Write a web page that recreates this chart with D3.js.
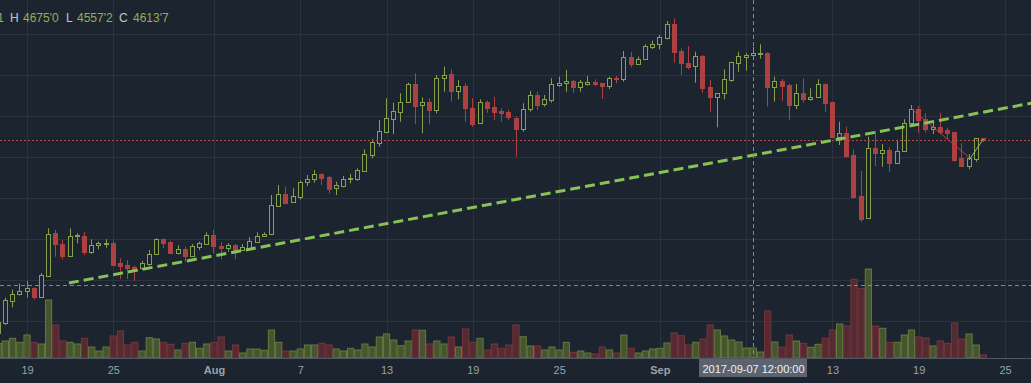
<!DOCTYPE html>
<html><head><meta charset="utf-8">
<script src="https://cdn.jsdelivr.net/npm/d3@7"></script>
<style>html,body{margin:0;padding:0;background:#1c2430;overflow:hidden}svg{display:block}</style>
</head><body>
<svg id="c" width="1031" height="383"></svg>
<script>
// ---- data (12h candles, BTC/USD) ----
const startTime = "2017-07-17T00:00:00";
const open = [
1883,1978,2198,2259,2288,2322,2237,2439,2862,2748,
2637,2829,2829,2676,2742,2748,2764,2563,2546,2524,
2514,2556,2651,2797,2774,2661,2703,2637,2725,2754,
2839,2735,2709,2742,2693,2715,2774,2829,2846,3125,
3236,3164,3207,3353,3383,3434,3408,3295,3317,3383,
3385,3466,3620,3740,3847,3971,4042,4134,4312,4104,
4134,4059,4368,4410,4247,4293,4075,3929,4134,4091,
4052,4042,3983,3870,4065,4205,4114,4156,4302,4319,
4344,4286,4312,4335,4319,4296,4374,4361,4573,4504,
4553,4676,4700,4764,4898,4634,4520,4488,4585,4280,
4188,4222,4351,4520,4573,4596.1,4604,4612,4286,4344,
4302,4107,4222,4163,4182,4312,4134,3792,3831,3620,
3220,3002,3685,3642,3668,3544,3656,3929,4065,3968,
3873,3890,3863,3841,3587,3512,3578,3783];
const high = [
2029,2227,2307,2366,2390,2327,2468,2904,2888,2790,
2904,2856,2871,2797,2774,2797,2783,2612,2595,2540,
2585,2693,2807,2805,2783,2739,2725,2751,2774,2865,
2888,2768,2758,2751,2751,2817,2865,2865,3229,3327,
3310,3295,3369,3424,3473,3439,3415,3359,3415,3434,
3490,3675,3773,3961,4173,4130,4222,4325,4417,4182,
4173,4400,4481,4456,4351,4319,4173,4163,4153,4188,
4075,4059,3990,4124,4244,4237,4205,4368,4383,4449,
4351,4351,4390,4358,4322,4383,4390,4634,4627,4579,
4700,4735,4790,4927,4953,4661,4683,4627,4595,4351,
4224,4456,4530,4627,4612,4675.0,4700,4620,4383,4361,
4312,4312,4368,4270,4358,4317,4137,3944,3896,3675,
3463,3798,3857,3727,3695,3759,3968,4107,4098,4026,
3951,4032,3886,3844,3734,3629,3785,3785];
const low = [
1863,1961,2134,2249,2229,2210,2234,2432,2627,2602,
2629,2758,2644,2654,2700,2715,2542,2407,2410,2393,
2498,2540,2644,2709,2654,2651,2579,2634,2693,2751,
2661,2602,2676,2602,2683,2712,2771,2824,2844,3122,
3146,3161,3187,3317,3349,3327,3246,3229,3304,3343,
3369,3463,3587,3701,3844,3824,3944,4130,3919,3831,
3919,4026,4237,4140,4163,3944,3896,3922,4032,3961,
3944,3961,3603,3847,4042,4059,4091,4130,4286,4237,
4227,4237,4296,4293,4166,4263,4319,4335,4475,4502,
4551,4654,4651,4748,4520,4400,4456,4325,4227,4042,
3890,4163,4335,4432,4442,4557.2,4560,4091,4140,4149,
3961,4068,4130,4149,4180,4042,3792,3717,3597,3197,
2969,2998,3512,3505,3457,3541,3654,3922,3837,3837,
3824,3824,3773,3554,3507,3480,3554,3746];
const close = [
1990,2205,2261,2293,2322,2234,2446,2846,2748,2634,
2829,2839,2670,2742,2758,2764,2546,2537,2520,2488,
2563,2654,2800,2764,2661,2700,2634,2732,2758,2839,
2735,2709,2742,2693,2725,2781,2829,2852,3132,3236,
3154,3220,3353,3385,3434,3398,3288,3327,3385,3398,
3473,3626,3743,3854,3978,4049,4140,4312,4098,4134,
4059,4374,4400,4247,4293,4075,3922,4134,4081,4042,
4032,3987,3870,4068,4205,4107,4166,4312,4325,4344,
4286,4335,4329,4312,4293,4368,4361,4573,4504,4556,
4683,4702,4768,4898,4627,4514,4475,4585,4276,4188,
4222,4358,4524,4585,4595,4613.7,4612,4286,4342,4296,
4107,4222,4163,4182,4309,4130,3798,3831,3610,3213,
2995,3685,3642,3668,3544,3662,3929,4065,3961,3873,
3896,3847,3831,3571,3512,3587,3783,3762];
const volume = [
14.7,17,19.7,15.7,23,15.7,14,58,33,17,
15.7,14,19.7,11,7,11,22,27,13,15.7,
7,20.3,19,15.7,13.7,8,14.7,15.7,9.7,14,
15.7,21,7,13,5,9,9,7.7,28,15.7,
7,7,9,13,13,14.7,13,9,7,9.7,
8,14,11,21,24,18,12.3,17,28,27.7,
14,17,14,21,11,29,15.7,19.7,8,14,
9.7,13,33,21.3,12,12,8,11,8,15.7,
5.7,7,5,4,11,8,5,23,9.7,5,
7,9,9.7,15,25,22.3,13,15.7,19,33,
28,22,18,16,10,10,6,47,16,10.8,
23,17,14.7,10.7,13.7,19.7,28,34,32,78.7,
69.7,89,32,29.7,15.7,15.7,23,28,21,20,
12,17,14.7,35,19,24,13,3];
const tickDates = ["2017-07-19","2017-07-25","2017-08-01","2017-08-07","2017-08-13","2017-08-19","2017-08-25","2017-09-01","2017-09-07","2017-09-13","2017-09-19","2017-09-25"];
const tickLabels = ["19","25","Aug","7","13","19","25","Sep","7","13","19","25"];
const priceGrid = [2000,2400,2800,3200,3600,4000,4400,4800];
const trendPoints = [["2017-07-21T22:00:00",2371],["2017-09-01T00:00:00",3448]];
const zigDown = [["2017-09-18T12:00:00",4068],["2017-09-22T12:00:00",3597]];
const zigUp = [["2017-09-22T12:00:00",3570],["2017-09-23T12:00:00",3776]];
const crossTime = "2017-09-07T12:00:00";
const crossPrice = 2351;

// ---- drawing ----
const W = 1031, H = 383, axisY = 358;
const C = {bg:"#1c2430", grid:"#2a333f", up:"#86a14c", down:"#ad4141",
  volUpFill:"#47552f", volUpStroke:"#627a3c", volDnFill:"#552a31", volDnStroke:"#77353d",
  trend:"#87c257", text:"#9aa1a9"};
const parse = d3.timeParse("%Y-%m-%dT%H:%M:%S");
const pDay = d3.timeParse("%Y-%m-%d");
const t0 = parse(startTime);
const times = open.map((_, i) => d3.timeHour.offset(t0, 12 * i));
const x = d3.scaleTime().domain([pDay("2017-07-19"), pDay("2017-09-25")]).range([27, 1005]);
const y = d3.scaleLinear().domain([2000, 4800]).range([321, 34]);
const yv = d3.scaleLinear().domain([0, 100]).range([axisY, 258]);
const step = x(times[1]) - x(times[0]);

const svg = d3.select("#c");
svg.append("rect").attr("width", W).attr("height", H).attr("fill", C.bg);

const defs = svg.append("defs");
defs.append("clipPath").attr("id","pane").append("rect").attr("x",0).attr("y",0).attr("width",W).attr("height",axisY);
const pane = svg.append("g").attr("clip-path","url(#pane)");

// grid
pane.append("g").selectAll("line").data(tickDates).join("line")
  .attr("x1", d => Math.round(x(pDay(d))) + 0.5).attr("x2", d => Math.round(x(pDay(d))) + 0.5)
  .attr("y1", 0).attr("y2", axisY).attr("stroke", C.grid);
pane.append("g").selectAll("line").data(priceGrid).join("line")
  .attr("x1", 0).attr("x2", W)
  .attr("y1", d => Math.round(y(d)) + 0.5).attr("y2", d => Math.round(y(d)) + 0.5).attr("stroke", C.grid);

// volume
const isUp = i => close[i] >= open[i];
pane.append("g").selectAll("rect").data(volume).join("rect")
  .attr("x", (d, i) => x(times[i]) - step / 2 + 0.5)
  .attr("width", step - 1)
  .attr("y", d => yv(d))
  .attr("height", d => axisY - yv(d))
  .attr("fill", (d, i) => isUp(i) ? C.volUpFill : C.volDnFill)
  .attr("stroke", (d, i) => isUp(i) ? C.volUpStroke : C.volDnStroke)
  .attr("stroke-width", 1);

// crosshair horizontal
pane.append("line").attr("x1",0).attr("x2",W)
  .attr("y1", Math.round(y(crossPrice))+0.5).attr("y2", Math.round(y(crossPrice))+0.5)
  .attr("stroke","#7f8790").attr("stroke-dasharray","4,3");

// candles
const cg = pane.append("g");
open.forEach((o, i) => {
  const cx = Math.floor(x(times[i])) + 0.5;
  const up = isUp(i);
  const col = up ? C.up : C.down;
  cg.append("line").attr("x1", cx).attr("x2", cx)
    .attr("y1", y(high[i])).attr("y2", y(low[i])).attr("stroke", col);
  const top = Math.round(y(Math.max(o, close[i])));
  const bot = Math.round(y(Math.min(o, close[i])));
  cg.append("rect").attr("x", cx - 2).attr("width", 4)
    .attr("y", top + 0.5).attr("height", Math.max(0, bot - top))
    .attr("fill", up ? C.bg : col).attr("stroke", col);
});

// last price line
const last = close[close.length - 1];
pane.append("line").attr("x1",0).attr("x2",W)
  .attr("y1", Math.round(y(last))+0.5).attr("y2", Math.round(y(last))+0.5)
  .attr("stroke","#b9483f").attr("stroke-dasharray","2,2");

// zigzag drawings
const lineGen = d3.line().x(d => x(parse(d[0]))).y(d => y(d[1]));
pane.append("path").attr("d", lineGen(zigDown)).attr("fill","none").attr("stroke","#c63a36").attr("stroke-width",1);
pane.append("path").attr("d", lineGen(zigUp)).attr("fill","none").attr("stroke","#8fc25a").attr("stroke-width",1);

// trend line (ray to the right edge)
const ta = [parse(trendPoints[0][0]), trendPoints[0][1]];
const tb = [parse(trendPoints[1][0]), trendPoints[1][1]];
const tEnd = x.invert(W + 5);
const pEnd = ta[1] + (tb[1] - ta[1]) * (tEnd - ta[0]) / (tb[0] - ta[0]);
pane.append("line")
  .attr("x1", x(ta[0])).attr("y1", y(ta[1]))
  .attr("x2", x(tEnd)).attr("y2", y(pEnd))
  .attr("stroke", C.trend).attr("stroke-width", 3).attr("stroke-dasharray", "10,5");

// crosshair vertical
const ct = parse(crossTime);
const cxv = Math.round(x(ct)) + 0.5;
pane.append("line").attr("x1", cxv).attr("x2", cxv).attr("y1", 0).attr("y2", axisY)
  .attr("stroke","#7f8790").attr("stroke-dasharray","4,3");

// legend
const ci = times.findIndex(t => +t === +ct);
const fmt = v => d3.format(".1f")(v).replace(".", "'");
const lg = svg.append("g").attr("font-family","'Liberation Sans', Arial, sans-serif").attr("font-size", 12);
lg.append("text").attr("x", 4).attr("y", 21.5).attr("text-anchor","end").attr("fill","#94ad57").text(fmt(open[ci]));
const legendItems = [["H", 10, "#c2c6cb"], [fmt(high[ci]), 23, "#94ad57"], ["L", 66, "#c2c6cb"], [fmt(low[ci]), 77, "#94ad57"], ["C", 119, "#c2c6cb"], [fmt(close[ci]), 133, "#94ad57"]];
legendItems.forEach(([t, px, col]) => lg.append("text").attr("x", px).attr("y", 21.5).attr("fill", col).text(t));

// axis
const labW = 108;
svg.append("line").attr("x1",0).attr("x2",W).attr("y1",axisY+0.5).attr("y2",axisY+0.5).attr("stroke","#4e5763");
const ax = svg.append("g").attr("transform", `translate(0,${axisY})`)
  .call(d3.axisBottom(x).tickValues(tickDates.map(pDay)).tickFormat((d, i) => tickLabels[i]).tickSize(0).tickPadding(8));
ax.select(".domain").remove();
ax.selectAll("text").attr("fill", C.text).attr("font-size", 11)
  .attr("font-family","'Liberation Sans', Arial, sans-serif")
  .attr("font-weight", (d, i) => isNaN(+tickLabels[i]) ? "bold" : "normal");
// tick labels hidden behind the crosshair time label are not shown (as in the original)
ax.selectAll(".tick").filter(d => Math.abs(x(d) - cxv) < labW / 2 + 6).select("text").remove();

// crosshair time label
const lab = svg.append("g");
lab.append("rect").attr("x", cxv - labW / 2 - 0.5).attr("y", 359).attr("width", labW).attr("height", 18).attr("fill", "#5c636e");
lab.append("text").attr("x", cxv).attr("y", 372.5).attr("text-anchor","middle")
  .attr("font-family","'Liberation Sans', Arial, sans-serif").attr("font-size", 11).attr("fill","#eef0f2")
  .text(d3.timeFormat("%Y-%m-%d %H:%M:%S")(ct));
</script>
</body></html>
